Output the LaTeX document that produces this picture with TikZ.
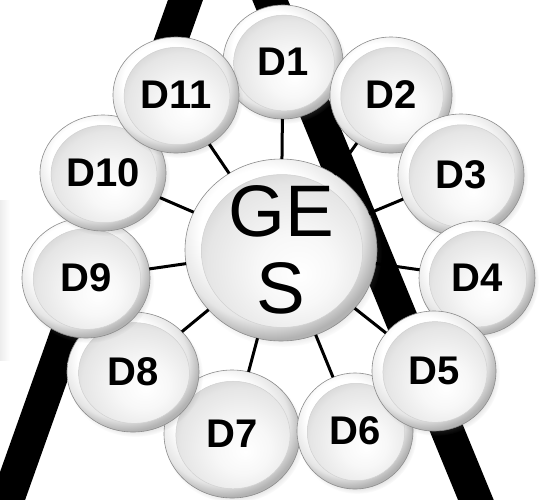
\documentclass[tikz,border=0pt]{standalone}
\usepackage{fontspec}
\setmainfont{Liberation Sans}
\usetikzlibrary{shapes.geometric,shadows,fadings}
\pgfdeclareradialshading{btnouter}{\pgfpoint{-6bp}{8bp}}{color(0bp)=(white); color(17bp)=(white); color(24bp)=(black!10); color(28bp)=(black!30); color(50bp)=(black!30)}
\pgfdeclareradialshading{btninner}{\pgfpoint{5bp}{-7bp}}{color(0bp)=(white); color(10bp)=(black!3); color(22bp)=(black!10); color(30bp)=(black!22); color(50bp)=(black!22)}
\tikzset{
  btn/.style 2 args={ellipse, inner sep=0pt, outer sep=0pt,
    minimum width=#1*2pt, minimum height=#2*2pt,
    draw=black!45, line width=0.6pt, shading=btnouter,
    circular drop shadow={shadow xshift=2pt, shadow yshift=-3pt, opacity=0.3, shadow scale=1.03},
    path picture={\shade[shading=btninner, draw=black!18, line width=0.5pt]
      ([xshift=1pt,yshift=-1pt]path picture bounding box.center)
      ellipse [x radius={#1*0.84pt}, y radius={#2*0.84pt}];},
    font=\fontsize{40}{40}\selectfont\bfseries},
  spoke/.style={line width=3pt, black},
  astroke/.style={line width=33pt, black},
}
\begin{document}
\begin{tikzpicture}[x=1pt,y=-1pt]
\useasboundingbox (0,0) rectangle (541,499);
\fill[white] (0,0) rectangle (541,499);
\clip (0,0) rectangle (541,499);
% faint bar on the left edge
\shade[left color=black!7, right color=white] (0,200) rectangle (10,360);
% thick black strokes of the background "A"
\coordinate (la) at (189,-10);
\coordinate (lb) at (4,510);
\coordinate (ra) at (266,-10);
\coordinate (rb) at (480,510);
\draw[astroke] (la) -- (lb);
\draw[astroke] (ra) -- (rb);
% buttons
\node[btn={60}{57}] (d1) at (283,62) {D1};
\node[btn={61}{58}] (d2) at (391,95) {D2};
\node[btn={63}{61}] (d3) at (461,175) {D3};
\node[btn={58}{57}] (d4) at (477,278) {D4};
\node[btn={68}{64}] (d7) at (232,434) {D7};
\node[btn={58}{58}] (d6) at (355,431) {D6};
\node[btn={62}{60}] (d5) at (434,371) {D5};
\node[btn={66}{60}] (d8) at (133,372) {D8};
\node[btn={64}{60}] (d9) at (86,278) {D9};
\node[btn={63}{58}] (d10) at (103,173) {D10};
\node[btn={63}{58}] (d11) at (176,95) {D11};
\node[btn={96}{91}, font=\fontsize{73}{77}\selectfont, align=center] (ges) at (281,250) {GE\\S};
% spokes
\foreach \d in {d1,d2,d3,d4,d5,d6,d7,d8,d9,d10,d11}
  \draw[spoke] (ges) -- (\d);
\end{tikzpicture}
\end{document}
